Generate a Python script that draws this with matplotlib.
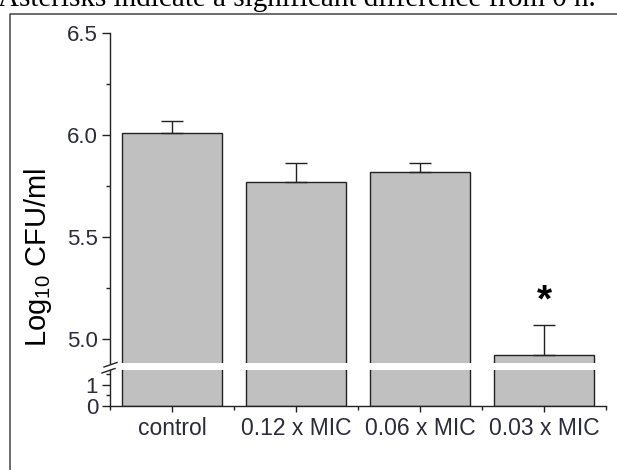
"""Bar chart with broken y axis: Log10 CFU/ml for control and sub-MIC doses."""

import matplotlib
matplotlib.use("Agg")
import matplotlib.pyplot as plt
from matplotlib.lines import Line2D
import numpy as np

plt.rcParams["font.family"] = ["Liberation Sans", "DejaVu Sans"]

categories = ["control", "0.12 x MIC", "0.06 x MIC", "0.03 x MIC"]
means = [6.01, 5.771, 5.817, 4.923]
errs_up = [0.057, 0.093, 0.047, 0.144]
significant = [False, False, False, True]
caption = "Asterisks indicate a significant difference from 0 h."

W, H = 617, 470
fig = plt.figure(figsize=(W / 100, H / 100), dpi=100)


def px(x0, y0, x1, y1):
    # pixel box (top-left origin) -> figure fraction rect
    return [x0 / W, 1 - y1 / H, (x1 - x0) / W, (y1 - y0) / H]


ax_top = fig.add_axes(px(110, 33, 606, 363))
ax_bot = fig.add_axes(px(110, 370, 606, 406))

x = np.arange(len(categories))
edge = "#222222"
tick_col = "#2b2b3b"

for ax in (ax_top, ax_bot):
    ax.bar(x, means, width=0.81, color="#c0c0c0", edgecolor=edge, linewidth=1.0, zorder=2)
    ax.set_xlim(-0.5, len(categories) - 0.5)
    for s in ("top", "right"):
        ax.spines[s].set_visible(False)
    for s in ("left", "bottom"):
        ax.spines[s].set_color(edge)
        ax.spines[s].set_linewidth(1.0)
    ax.tick_params(axis="y", which="major", direction="out", length=5.5, width=1.0,
                   color=edge, labelsize=16, labelcolor=tick_col, pad=3)
    ax.tick_params(axis="y", which="minor", direction="out", length=3, width=1.0, color=edge)

ax_top.errorbar(x, means, yerr=[np.zeros(len(x)), errs_up], fmt="none",
                ecolor=edge, elinewidth=1.0, capsize=8, capthick=1.0, zorder=3)
for xi, m, e, sig in zip(x, means, errs_up, significant):
    if sig:
        ax_top.text(xi, m + e + 0.115, "*", ha="center", va="center",
                    fontsize=28, fontweight="bold", color="black")

ax_top.set_ylim(4.882, 6.5)
ax_top.set_yticks([5.0, 5.5, 6.0, 6.5])
ax_top.set_yticklabels(["5.0", "5.5", "6.0", "6.5"])
ax_top.set_yticks([5.25, 5.75, 6.25], minor=True)
ax_top.spines["bottom"].set_visible(False)
ax_top.set_xticks([])

ax_bot.set_ylim(0, 1.71)
ax_bot.set_yticks([0, 1])
ax_bot.set_yticklabels(["0", "1"])
ax_bot.set_yticks([0.5, 1.5], minor=True)
ax_bot.set_xticks(x)
ax_bot.set_xticklabels(categories)
ax_bot.set_xticks(np.arange(-0.5, len(categories)), minor=True)
ax_bot.tick_params(axis="x", which="major", direction="out", length=4, width=1.0,
                   color=edge, labelsize=16.5, labelcolor=tick_col, pad=4)
ax_bot.tick_params(axis="x", which="minor", direction="out", length=3, width=1.0, color=edge)

# break marks on the y axis
for (x0, y0, x1, y1) in [(104, 367, 117, 362.5), (102, 373, 115, 368.5)]:
    fig.add_artist(Line2D([x0 / W, x1 / W], [1 - y0 / H, 1 - y1 / H],
                          color=edge, lw=1.0, transform=fig.transFigure))

fig.text(38 / W, 1 - 257 / H, "Log$_{\\mathregular{10}}$ CFU/ml", rotation=90,
         ha="center", va="center", fontsize=21, color="black")

# surrounding frame (left and top edges only visible)
fig.add_artist(Line2D([9.5 / W, 9.5 / W, 1.0], [0.0, 1 - 13.5 / H, 1 - 13.5 / H],
                      color="#444444", lw=1.1, transform=fig.transFigure))
fig.text(-2 / W, 1 - 6 / H, caption, ha="left", va="baseline", fontsize=21,
         family=["Liberation Serif", "DejaVu Serif"], color="black")

fig.savefig("out.png", dpi=100)
